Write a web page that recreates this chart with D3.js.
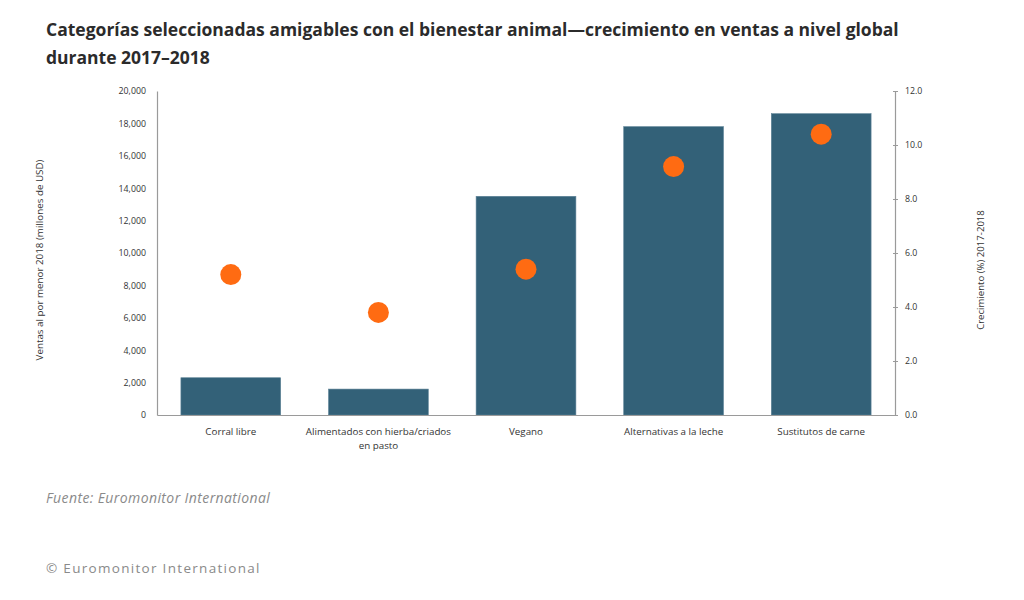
<!DOCTYPE html>
<html><head><meta charset="utf-8">
<script src="https://cdn.jsdelivr.net/npm/d3@7/dist/d3.min.js"></script>
<style>
body{margin:0;background:#fff;font-family:"Open Sans",Lato,sans-serif;}
svg{display:block;}
</style></head>
<body>
<svg id="c" width="1024" height="600"></svg>
<script>
const categories = ["Corral libre", "Alimentados con hierba/criados en pasto", "Vegano", "Alternativas a la leche", "Sustitutos de carne"];
const categoryLines = [["Corral libre"], ["Alimentados con hierba/criados", "en pasto"], ["Vegano"], ["Alternativas a la leche"], ["Sustitutos de carne"]];
const sales = [2300, 1600, 13500, 17800, 18600];
const growth = [5.2, 3.8, 5.4, 9.2, 10.4];
const leftTicks = [0, 2000, 4000, 6000, 8000, 10000, 12000, 14000, 16000, 18000, 20000];
const rightTicks = [0, 2, 4, 6, 8, 10, 12];

const svg = d3.select("#c");
const L = 157, R = 895, T = 91, B = 415;
const small = "'Open Sans', sans-serif";

svg.append("text").attr("x", 46).attr("y", 36).attr("font-family", "'Open Sans', sans-serif").attr("font-weight", 700)
  .attr("font-size", 17.5).attr("fill", "#2b2b2b").text("Categorías seleccionadas amigables con el bienestar animal—crecimiento en ventas a nivel global");
svg.append("text").attr("x", 46).attr("y", 64).attr("font-family", "'Open Sans', sans-serif").attr("font-weight", 700)
  .attr("font-size", 17.5).attr("fill", "#2b2b2b").text("durante 2017–2018");

const x = d3.scaleBand().domain(categories).range([L, R]).paddingInner(0.324).paddingOuter(0.162);
const yL = d3.scaleLinear().domain([0, 20000]).range([B, T]);
const yR = d3.scaleLinear().domain([0, 12]).range([B, T]);

// bars
svg.append("g").selectAll("rect").data(categories).join("rect")
  .attr("x", d => x(d)).attr("width", x.bandwidth())
  .attr("y", (d, i) => yL(sales[i])).attr("height", (d, i) => B - yL(sales[i]))
  .attr("fill", "#336178").attr("stroke", "#5d8296").attr("stroke-width", 0.6);

// left axis
const gl = svg.append("g").attr("transform", `translate(${L},0)`)
  .call(d3.axisLeft(yL).tickValues(leftTicks).tickSize(0).tickPadding(11).tickFormat(d3.format(",")));
gl.select(".domain").attr("stroke", "#9a9a9a").attr("stroke-width", 1.2);
gl.selectAll("text").attr("font-family", small).attr("font-size", 8.8).attr("fill", "#333");

// right axis
const gr = svg.append("g").attr("transform", `translate(${R},0)`)
  .call(d3.axisRight(yR).tickValues(rightTicks).tickSize(3).tickPadding(7).tickFormat(d3.format(".1f")));
gr.select(".domain").attr("stroke", "#9a9a9a").attr("stroke-width", 1.2);
gr.selectAll(".tick line").attr("stroke", "#9a9a9a").attr("x1", -2);
gr.selectAll("text").attr("font-family", small).attr("font-size", 8.8).attr("fill", "#333");

// bottom axis
const gb = svg.append("g").attr("transform", `translate(0,${B})`)
  .call(d3.axisBottom(x).tickSize(0).tickFormat(""));
gb.select(".domain").attr("stroke", "#9a9a9a").attr("stroke-width", 1.2);
gb.selectAll(".tick").each(function(d, i) {
  const t = d3.select(this).append("text").attr("fill", "#333").attr("text-anchor", "middle")
    .attr("font-family", small).attr("font-size", 9.8);
  categoryLines[i].forEach((ln, j) => t.append("tspan").attr("x", 0).attr("y", 20 + j * 14).text(ln));
});

// dots
svg.append("g").selectAll("circle").data(categories).join("circle")
  .attr("cx", d => x(d) + x.bandwidth() / 2).attr("cy", (d, i) => yR(growth[i]))
  .attr("r", 10.5).attr("fill", "#ff6b12");

// axis titles
svg.append("text").attr("transform", `translate(43,260) rotate(-90)`).attr("text-anchor", "middle")
  .attr("font-family", small).attr("font-size", 9.8).attr("fill", "#333")
  .text("Ventas al por menor 2018 (millones de USD)");
svg.append("text").attr("transform", `translate(984,270) rotate(-90)`).attr("text-anchor", "middle")
  .attr("font-family", small).attr("font-size", 9.6).attr("fill", "#333")
  .text("Crecimiento (%) 2017-2018");

svg.append("text").attr("x", 46).attr("y", 503).attr("font-family", "'Open Sans', sans-serif").attr("font-style", "italic")
  .attr("font-size", 14).attr("letter-spacing", 0.4).attr("fill", "#8a8a8a").text("Fuente: Euromonitor International");
svg.append("text").attr("x", 46).attr("y", 573).attr("font-family", "'Open Sans', sans-serif")
  .attr("font-size", 13.5).attr("letter-spacing", 1.3).attr("fill", "#8a8a8a").text("© Euromonitor International");
</script>
</body></html>
